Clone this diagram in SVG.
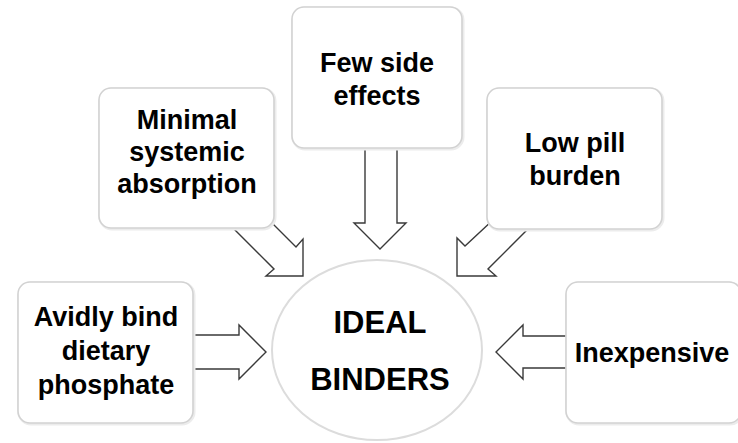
<svg xmlns="http://www.w3.org/2000/svg" width="738" height="443" viewBox="0 0 738 443">
<defs>
<style>
.box{fill:#fff;stroke:#d2d2d2;stroke-width:1.6}
.sh{fill:none;stroke:#ececec;stroke-width:3}
.arr{fill:#fff;stroke:#3a3a3a;stroke-width:1.4;stroke-linejoin:miter}
.t{font-family:"Liberation Sans",Arial,sans-serif;font-weight:bold;font-size:27px;fill:#000;text-anchor:middle}
.big{font-size:31px}
</style>
</defs>
<rect width="738" height="443" fill="#fff"/>
<g id="connectors">
<path class="arr" d="M365,140 V223 H354 L380,249 L406,223 H397 V140"/>
<path class="arr" d="M193,335 H239 V325 L266,352 L239,379 V369 H193"/>
<path class="arr" d="M580,336 H523 V325 L496,352 L523,379 V368 H580"/>
<path class="arr" d="M228,223 L274,269 L266,276 H303 V239 L296,247 L268,219"/>
<path class="arr" d="M494,219 L465,246 L457,238 V276 H496 L488,269 L534,223"/>
</g>
<g id="ideal">
<ellipse cx="377" cy="350" rx="105" ry="90" fill="#fff" stroke="#dcdcdc" stroke-width="2"/>
<text class="t big" x="380" y="333">IDEAL</text>
<text class="t big" x="380" y="390">BINDERS</text>
</g>
<g id="minimal">
<rect class="sh" x="100" y="89" width="175" height="140" rx="12"/>
<rect class="box" x="99" y="88" width="175" height="140" rx="12"/>
<text class="t" x="187" y="129">Minimal</text>
<text class="t" x="187" y="161">systemic</text>
<text class="t" x="187" y="193">absorption</text>
</g>
<g id="few">
<rect class="sh" x="293" y="8" width="170" height="141" rx="12"/>
<rect class="box" x="292" y="7" width="170" height="141" rx="12"/>
<text class="t" x="377" y="72">Few side</text>
<text class="t" x="377" y="105">effects</text>
</g>
<g id="lowpill">
<rect class="sh" x="488" y="89" width="175" height="141" rx="12"/>
<rect class="box" x="487" y="88" width="175" height="141" rx="12"/>
<text class="t" x="575" y="152">Low pill</text>
<text class="t" x="575" y="185">burden</text>
</g>
<g id="avidly">
<rect class="sh" x="19" y="283" width="175" height="141" rx="12"/>
<rect class="box" x="18" y="282" width="175" height="141" rx="12"/>
<text class="t" x="106" y="326">Avidly bind</text>
<text class="t" x="106" y="360">dietary</text>
<text class="t" x="106" y="394">phosphate</text>
</g>
<g id="inexpensive">
<rect class="sh" x="567" y="283" width="175" height="141" rx="12"/>
<rect class="box" x="566" y="282" width="175" height="141" rx="12"/>
<text class="t" x="652" y="362">Inexpensive</text>
</g>
</svg>
